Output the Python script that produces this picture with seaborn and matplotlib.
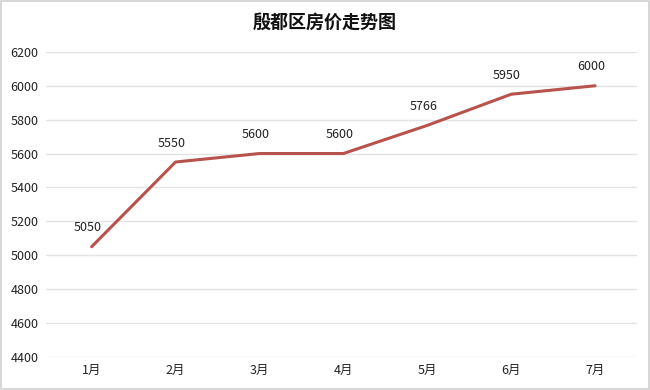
import matplotlib

matplotlib.use("Agg")

import matplotlib.pyplot as plt
import pandas as pd
import seaborn as sns

months = ["1月", "2月", "3月", "4月", "5月", "6月", "7月"]
prices = [5050, 5550, 5600, 5600, 5766, 5950, 6000]
yticks = [4400, 4600, 4800, 5000, 5200, 5400, 5600, 5800, 6000, 6200]

sns.set_theme(style="white")
plt.rcParams["font.family"] = ["Noto Sans CJK SC", "DejaVu Sans"]

df = pd.DataFrame({"month": months, "price": prices})

fig = plt.figure(figsize=(6.5, 3.9), dpi=100)
ax = fig.add_axes([0.07, 0.085, 0.91, 0.782])
sns.lineplot(data=df, x="month", y="price", ax=ax, color="#b8524c", linewidth=2.2, sort=False)

ax.set_xlim(-0.55, len(months) - 0.5)
ax.set_ylim(4400, 6200)
ax.set_yticks(yticks)
ax.yaxis.grid(True, color="#e3e3e3", linewidth=1)
ax.set_axisbelow(True)
for s in ax.spines.values():
    s.set_visible(False)
ax.tick_params(axis="both", length=0, labelsize=9, colors="#222222", pad=5)
ax.set_xlabel("")
ax.set_ylabel("")

for i, v in enumerate(prices):
    ax.annotate(str(v), (i, v), xytext=(-3, 9), textcoords="offset points",
                ha="center", va="bottom", fontsize=9, color="#222222")

fig.text(0.5, 0.943, "殷都区房价走势图", ha="center", va="center",
         fontsize=13, fontweight="bold", color="#111111")
fig.patches.append(plt.Rectangle((0.002, 0.003), 0.996, 0.994, transform=fig.transFigure,
                                 fill=False, edgecolor="#d0d0d0", linewidth=1.2))
fig.savefig("out.png", dpi=100)
